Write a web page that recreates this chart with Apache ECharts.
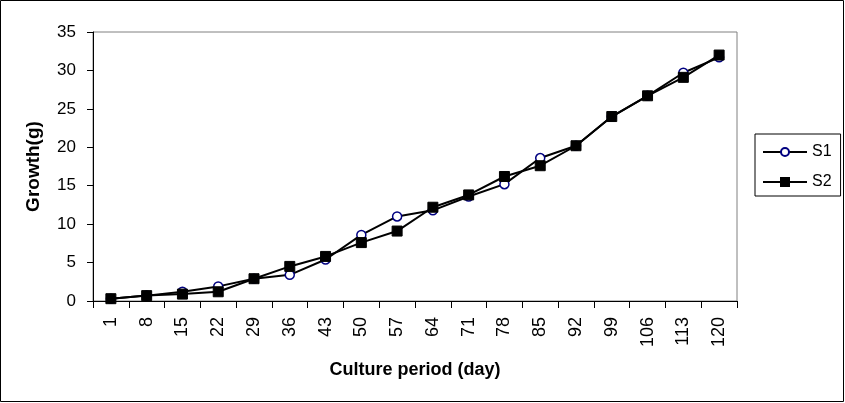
<!DOCTYPE html>
<html><head><meta charset="utf-8">
<script src="https://cdn.jsdelivr.net/npm/echarts@6/dist/echarts.min.js"></script>
<style>html,body{margin:0;padding:0;background:#fff}#c{width:845px;height:403px}</style>
</head><body><div id="c"></div>
<script>
const categories = ['1','8','15','22','29','36','43','50','57','64','71','78','85','92','99','106','113','120'];
const s1 = [0.3,0.7,1.2,1.9,2.9,3.4,5.4,8.6,11.0,11.8,13.6,15.2,18.6,20.2,24.0,26.7,29.7,31.7];
const s2 = [0.3,0.7,0.9,1.2,2.9,4.5,5.8,7.6,9.1,12.2,13.8,16.2,17.6,20.2,24.0,26.7,29.1,32.0];
const yTicks = {min:0, max:35, interval:5};
const FONT = 'Liberation Sans, Arial, sans-serif';
const chart = echarts.init(document.getElementById('c'), null, {renderer:'canvas'});
chart.setOption({
  animation:false,
  backgroundColor:'#fff',
  graphic:[{type:'rect', shape:{x:0.5,y:0.5,width:843,height:401}, style:{fill:'none',stroke:'#000',lineWidth:1}, z:-1}],
  grid:{left:93,right:108,top:32,bottom:102,show:true,borderColor:'#808080',borderWidth:1,backgroundColor:'#fff'},
  legend:{
    orient:'vertical', left:755, top:134,
    padding:[10,9,6,7], borderColor:'#000', borderWidth:1, itemGap:14,
    itemWidth:44, itemHeight:10,
    textStyle:{fontFamily:FONT,fontSize:16,color:'#000'},
    data:['S1','S2']
  },
  xAxis:{
    type:'category', data:categories, boundaryGap:true,
    name:'Culture period (day)', nameLocation:'middle', nameGap:60,
    nameTextStyle:{fontFamily:FONT,fontSize:18,fontWeight:'bold',color:'#000'},
    axisLine:{lineStyle:{color:'#000',width:1}},
    axisTick:{show:true,length:7,inside:false,alignWithLabel:false,lineStyle:{color:'#000'}},
    axisLabel:{rotate:90,margin:16,fontFamily:FONT,fontSize:18,color:'#000',interval:0},
    splitLine:{show:false}
  },
  yAxis:{
    type:'value', min:yTicks.min, max:yTicks.max, interval:yTicks.interval,
    name:'Growth(g)', nameLocation:'middle', nameGap:50, nameRotate:90,
    nameTextStyle:{fontFamily:FONT,fontSize:19,fontWeight:'bold',color:'#000'},
    axisLine:{show:true,lineStyle:{color:'#000',width:1}},
    axisTick:{show:true,length:6,lineStyle:{color:'#000'}},
    axisLabel:{margin:17,fontFamily:FONT,fontSize:17,color:'#000'},
    splitLine:{show:false}
  },
  series:[
    {name:'S1', type:'line', data:s1, symbol:'circle', symbolSize:9,
     lineStyle:{color:'#000',width:2}, itemStyle:{color:'#fff',borderColor:'#000080',borderWidth:1.5}},
    {name:'S2', type:'line', data:s2, symbol:'rect', symbolSize:10,
     lineStyle:{color:'#000',width:2}, itemStyle:{color:'#000',borderColor:'#000',borderWidth:1}}
  ]
});
</script></body></html>
